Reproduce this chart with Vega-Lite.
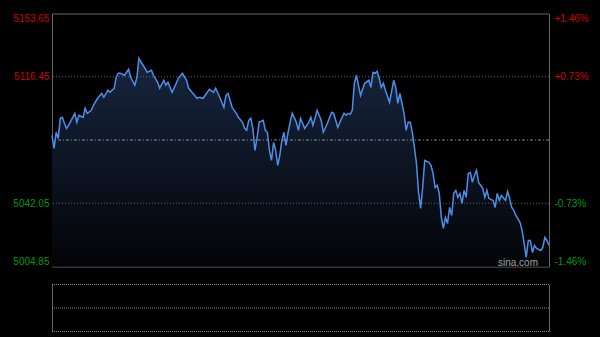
{
  "$schema": "https://vega.github.io/schema/vega-lite/v6.json",
  "background": "#000000",
  "padding": {"left": 5, "top": 12.5, "right": 5, "bottom": 4.5},
  "spacing": 15,
  "config": {
    "font": "Liberation Sans",
    "axis": {"labelFont": "Liberation Sans", "labelFontSize": 10, "title": null, "grid": false, "ticks": false}
  },
  "datasets": {
    "main": [
      {"t":0,"p":5081.99},{"t":1,"p":5074.34},{"t":2,"p":5083.76},{"t":3,"p":5080.23},{"t":4,"p":5092.00},{"t":5,"p":5092.59},{"t":6,"p":5089.06},{"t":7,"p":5086.11},{"t":8,"p":5087.88},{"t":10,"p":5092.59},
      {"t":11,"p":5094.95},{"t":12,"p":5089.65},{"t":13,"p":5093.77},{"t":15,"p":5092.59},{"t":16,"p":5097.89},{"t":17,"p":5094.95},{"t":19,"p":5096.71},{"t":20,"p":5099.66},{"t":22,"p":5103.78},{"t":24,"p":5106.72},
      {"t":25,"p":5104.37},{"t":27,"p":5108.49},{"t":28,"p":5107.31},{"t":30,"p":5109.67},{"t":31,"p":5116.14},{"t":32,"p":5118.50},{"t":33,"p":5118.50},{"t":35,"p":5117.32},{"t":37,"p":5120.85},{"t":38,"p":5116.14},
      {"t":40,"p":5111.43},{"t":41,"p":5116.14},{"t":42,"p":5127.33},{"t":43,"p":5124.97},{"t":44,"p":5123.21},{"t":46,"p":5119.09},{"t":48,"p":5120.26},{"t":49,"p":5117.32},{"t":51,"p":5113.20},{"t":52,"p":5109.67},
      {"t":54,"p":5114.38},{"t":55,"p":5111.43},{"t":56,"p":5113.20},{"t":58,"p":5107.31},{"t":60,"p":5112.61},{"t":61,"p":5115.55},{"t":63,"p":5118.50},{"t":65,"p":5114.38},{"t":66,"p":5109.67},{"t":68,"p":5106.72},
      {"t":70,"p":5103.78},{"t":71,"p":5104.37},{"t":73,"p":5103.78},{"t":74,"p":5105.54},{"t":76,"p":5109.08},{"t":78,"p":5107.31},{"t":79,"p":5109.67},{"t":81,"p":5104.37},{"t":83,"p":5098.48},{"t":84,"p":5105.54},
      {"t":85,"p":5106.72},{"t":87,"p":5098.48},{"t":89,"p":5094.95},{"t":90,"p":5092.59},{"t":92,"p":5089.65},{"t":93,"p":5086.11},{"t":94,"p":5084.94},{"t":95,"p":5090.82},{"t":96,"p":5092.00},{"t":97,"p":5086.11},
      {"t":98,"p":5073.16},{"t":99,"p":5080.23},{"t":100,"p":5089.65},{"t":102,"p":5090.82},{"t":103,"p":5084.94},{"t":104,"p":5083.76},{"t":105,"p":5073.16},{"t":106,"p":5067.27},{"t":107,"p":5077.87},{"t":108,"p":5073.16},
      {"t":109,"p":5064.33},{"t":110,"p":5070.22},{"t":111,"p":5079.05},{"t":112,"p":5083.76},{"t":113,"p":5076.10},{"t":114,"p":5083.76},{"t":115,"p":5089.65},{"t":116,"p":5094.95},{"t":118,"p":5089.65},{"t":119,"p":5084.94},
      {"t":120,"p":5092.00},{"t":122,"p":5086.11},{"t":124,"p":5089.65},{"t":125,"p":5092.59},{"t":126,"p":5087.88},{"t":127,"p":5092.00},{"t":128,"p":5096.71},{"t":130,"p":5090.82},{"t":131,"p":5083.76},{"t":133,"p":5089.06},
      {"t":135,"p":5095.53},{"t":136,"p":5094.95},{"t":138,"p":5086.70},{"t":139,"p":5089.65},{"t":141,"p":5094.95},{"t":142,"p":5093.77},{"t":143,"p":5094.95},{"t":144,"p":5094.36},{"t":145,"p":5096.71},{"t":146,"p":5112.61},
      {"t":147,"p":5117.32},{"t":148,"p":5111.43},{"t":149,"p":5105.54},{"t":151,"p":5112.61},{"t":153,"p":5114.38},{"t":154,"p":5110.25},{"t":155,"p":5119.09},{"t":156,"p":5118.50},{"t":157,"p":5119.67},{"t":158,"p":5115.55},
      {"t":159,"p":5110.25},{"t":160,"p":5112.61},{"t":161,"p":5108.49},{"t":163,"p":5101.42},{"t":165,"p":5114.38},{"t":166,"p":5110.25},{"t":167,"p":5100.83},{"t":168,"p":5106.72},{"t":170,"p":5094.95},{"t":171,"p":5084.94},
      {"t":172,"p":5089.65},{"t":173,"p":5089.65},{"t":174,"p":5083.76},{"t":175,"p":5074.93},{"t":176,"p":5065.51},{"t":177,"p":5048.43},{"t":178,"p":5039.01},{"t":179,"p":5051.38},{"t":180,"p":5067.27},{"t":182,"p":5066.09},
      {"t":183,"p":5064.33},{"t":184,"p":5059.62},{"t":185,"p":5051.38},{"t":186,"p":5052.55},{"t":187,"p":5047.84},{"t":188,"p":5033.71},{"t":189,"p":5027.23},{"t":190,"p":5033.71},{"t":191,"p":5030.18},{"t":192,"p":5039.60},
      {"t":193,"p":5034.89},{"t":194,"p":5047.84},{"t":195,"p":5049.61},{"t":196,"p":5045.49},{"t":197,"p":5047.84},{"t":198,"p":5041.95},{"t":199,"p":5049.61},{"t":200,"p":5045.49},{"t":201,"p":5059.62},{"t":202,"p":5060.21},
      {"t":203,"p":5054.32},{"t":204,"p":5058.44},{"t":205,"p":5061.38},{"t":206,"p":5054.32},{"t":208,"p":5050.79},{"t":209,"p":5045.49},{"t":210,"p":5049.61},{"t":211,"p":5044.90},{"t":213,"p":5043.72},{"t":214,"p":5039.60},
      {"t":215,"p":5047.84},{"t":216,"p":5043.72},{"t":217,"p":5046.66},{"t":219,"p":5043.72},{"t":220,"p":5049.02},{"t":221,"p":5044.90},{"t":222,"p":5039.60},{"t":223,"p":5037.83},{"t":224,"p":5034.89},{"t":226,"p":5030.77},
      {"t":227,"p":5026.06},{"t":228,"p":5018.40},{"t":229,"p":5010.16},{"t":230,"p":5020.17},{"t":231,"p":5020.17},{"t":232,"p":5013.10},{"t":233,"p":5017.22},{"t":234,"p":5015.46},{"t":236,"p":5014.28},{"t":237,"p":5016.05},
      {"t":238,"p":5021.93},{"t":239,"p":5020.17},{"t":240,"p":5017.22}
    ],
    "grid": [{"lvl": 5116.45}, {"lvl": 5042.05}],
    "prev": [{"lvl": 5079.25}],
    "brand": [{"label": "sina.com"}],
    "vgrid": [{"v": 0}, {"v": 0.5}, {"v": 1}]
  },
  "vconcat": [
    {
      "width": 497,
      "height": 253,
      "view": {"stroke": "#666666", "strokeWidth": 1},
      "resolve": {"axis": {"y": "independent"}},
      "layer": [
        {
          "data": {"name": "main"},
          "mark": {"type": "area", "color": {"gradient": "linear", "x1": 0, "y1": 1, "x2": 0, "y2": 0, "stops": [{"offset": 0, "color": "#030407"}, {"offset": 1, "color": "#17253f"}]}},
          "encoding": {
            "x": {"field": "t", "type": "quantitative", "scale": {"domain": [0, 240], "nice": false}, "axis": null},
            "y": {"field": "p", "type": "quantitative", "scale": {"domain": [5004.85, 5153.65], "nice": false, "zero": false},
              "axis": {"orient": "left", "values": [5004.85, 5042.05, 5116.45, 5153.65], "format": ".2f", "labelFlush": true, "domain": false, "labelPadding": 3, "minExtent": 46, "maxExtent": 46,
                "labelColor": {"condition": {"test": "datum.value > 5079.25", "value": "#cc0000"}, "value": "#009a00"}}},
            "y2": {"datum": 5004.85}
          }
        },
        {
          "data": {"name": "grid"},
          "mark": {"type": "rule", "color": "#606060", "strokeDash": [1, 2], "strokeWidth": 1},
          "encoding": {"y": {"field": "lvl", "type": "quantitative", "axis": null}}
        },
        {
          "data": {"name": "prev"},
          "mark": {"type": "rule", "color": "#8a8a8a", "strokeDash": [3, 2, 1, 2], "strokeWidth": 1},
          "encoding": {"y": {"field": "lvl", "type": "quantitative", "axis": null}}
        },
        {
          "data": {"name": "main"},
          "mark": {"type": "line", "color": "#4d8fe8", "strokeWidth": 1.5},
          "encoding": {
            "x": {"field": "t", "type": "quantitative"},
            "y": {"field": "p", "type": "quantitative",
              "axis": {"orient": "right", "values": [5004.85, 5042.05, 5116.45, 5153.65], "labelFlush": true, "domain": false, "labelPadding": 5, "minExtent": 47, "maxExtent": 47,
                "labelExpr": "(datum.value > 5079.25 ? '+' : '-') + format(abs(datum.value - 5079.25) / 5079.25 * 100, '.2f') + '%'",
                "labelColor": {"condition": {"test": "datum.value > 5079.25", "value": "#cc0000"}, "value": "#009a00"}}}
          }
        },
        {
          "data": {"name": "brand"},
          "mark": {"type": "text", "align": "right", "baseline": "alphabetic", "dx": -11, "dy": -1, "fontSize": 10, "color": "#a0a0a0", "font": "Liberation Sans"},
          "encoding": {
            "text": {"field": "label"},
            "x": {"datum": 240},
            "y": {"datum": 5004.85, "axis": null}
          }
        }
      ]
    },
    {
      "width": 497,
      "height": 47,
      "view": {"stroke": null},
      "data": {"name": "vgrid"},
      "resolve": {"axis": {"y": "independent"}},
      "layer": [
        {
          "mark": {"type": "rule", "color": "#8a8a8a", "strokeDash": [1, 1], "strokeWidth": 1},
          "encoding": {"y": {"field": "v", "type": "quantitative", "scale": {"domain": [0, 1], "nice": false},
            "axis": {"orient": "left", "labels": false, "domain": true, "domainColor": "#666666", "minExtent": 46, "maxExtent": 46}}}
        },
        {
          "mark": {"type": "rule", "opacity": 0},
          "encoding": {"y": {"field": "v", "type": "quantitative",
            "axis": {"orient": "right", "labels": false, "domain": true, "domainColor": "#666666", "minExtent": 47, "maxExtent": 47}}}
        }
      ]
    }
  ]
}
